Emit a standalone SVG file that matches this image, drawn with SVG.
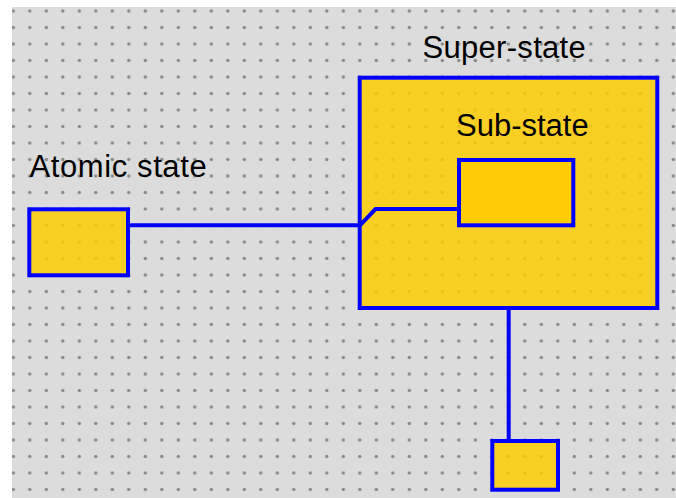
<svg xmlns="http://www.w3.org/2000/svg" width="676" height="498" viewBox="0 0 676 498">
  <style>
    .state { fill: #FFCC00; fill-opacity: 0.84; stroke: #0000FF; stroke-width: 4; }
    .conn { fill: none; stroke: #0000FF; stroke-width: 4; stroke-linejoin: miter; }
    .label { font-family: "Liberation Sans", Arial, sans-serif; font-size: 31px; fill: #000000; }
  </style>
  <defs>
    <pattern id="dots" patternUnits="userSpaceOnUse" x="5.05" y="2.75" width="16.5" height="16.5">
      <circle cx="8.25" cy="8.25" r="1.7" fill="#888888"/>
    </pattern>
  </defs>
  <rect x="0" y="0" width="676" height="498" fill="#FFFFFF"/>
  <rect x="12" y="7" width="664" height="491" fill="#DCDCDC"/>
  <rect x="12" y="7" width="664" height="491" fill="url(#dots)"/>

  <g id="atomic-state">
    <rect class="state" x="29.3" y="209.3" width="98.7" height="66"/>
    <text class="label" x="29.5" y="177" letter-spacing="0.6">Atomic state</text>
  </g>

  <g id="super-state">
    <rect class="state" x="359.7" y="77.7" width="297.6" height="230.3"/>
    <text class="label" x="422.5" y="58.3" letter-spacing="0.3">Super-state</text>
  </g>

  <g id="sub-state">
    <rect class="state" x="459" y="160" width="114.3" height="65.3"/>
    <text class="label" x="456" y="136">Sub-state</text>
  </g>

  <g id="target-state">
    <rect class="state" x="492.3" y="441" width="65.7" height="48.7"/>
  </g>

  <g id="connectors">
    <path class="conn" d="M130 225.3 H360 L375.5 209 H459"/>
    <path class="conn" d="M508.7 308 V441"/>
  </g>
</svg>
